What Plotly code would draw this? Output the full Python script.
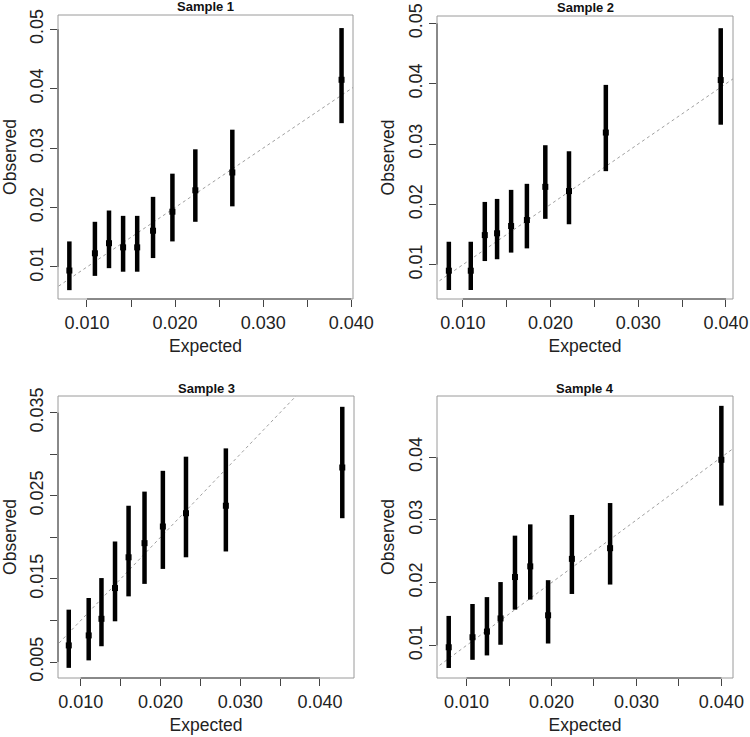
import plotly.graph_objects as go

# ---------------- data ----------------
titles = ["Sample 1", "Sample 2", "Sample 3", "Sample 4"]

s1_expected = [0.0080, 0.0109, 0.0125, 0.0141, 0.0157, 0.0175, 0.0197, 0.0223, 0.0265, 0.0389]
s1_observed = [0.0094, 0.0123, 0.0140, 0.0133, 0.0133, 0.0161, 0.0193, 0.0229, 0.0259, 0.0415]
s1_lower    = [0.0061, 0.0085, 0.0098, 0.0092, 0.0092, 0.0115, 0.0143, 0.0176, 0.0202, 0.0342]
s1_upper    = [0.0143, 0.0176, 0.0195, 0.0186, 0.0186, 0.0218, 0.0257, 0.0298, 0.0331, 0.0502]

s2_expected = [0.0084, 0.0109, 0.0125, 0.0139, 0.0155, 0.0173, 0.0194, 0.0221, 0.0263, 0.0394]
s2_observed = [0.0090, 0.0090, 0.0149, 0.0152, 0.0164, 0.0174, 0.0229, 0.0222, 0.0319, 0.0406]
s2_lower    = [0.0058, 0.0058, 0.0106, 0.0109, 0.0120, 0.0127, 0.0176, 0.0167, 0.0255, 0.0332]
s2_upper    = [0.0138, 0.0138, 0.0204, 0.0209, 0.0224, 0.0234, 0.0298, 0.0288, 0.0398, 0.0492]

s3_expected = [0.0085, 0.0110, 0.0126, 0.0143, 0.0160, 0.0180, 0.0203, 0.0232, 0.0282, 0.0428]
s3_observed = [0.0070, 0.0082, 0.0102, 0.0139, 0.0176, 0.0193, 0.0213, 0.0229, 0.0238, 0.0284]
s3_lower    = [0.0043, 0.0052, 0.0069, 0.0099, 0.0129, 0.0144, 0.0162, 0.0176, 0.0183, 0.0223]
s3_upper    = [0.0113, 0.0127, 0.0151, 0.0195, 0.0238, 0.0255, 0.0280, 0.0297, 0.0307, 0.0357]

s4_expected = [0.0079, 0.0107, 0.0124, 0.0140, 0.0157, 0.0175, 0.0196, 0.0224, 0.0269, 0.0400]
s4_observed = [0.0097, 0.0113, 0.0122, 0.0143, 0.0209, 0.0226, 0.0148, 0.0238, 0.0255, 0.0396]
s4_lower    = [0.0064, 0.0077, 0.0084, 0.0101, 0.0157, 0.0173, 0.0103, 0.0182, 0.0197, 0.0323]
s4_upper    = [0.0147, 0.0166, 0.0177, 0.0201, 0.0275, 0.0293, 0.0204, 0.0308, 0.0327, 0.0482]

x_ranges = [[0.00671, 0.0402], [0.00705, 0.0408], [0.00715, 0.04427], [0.00652, 0.04137]]
y_ranges = [[0.00461, 0.0524], [0.00431, 0.05122], [0.00308, 0.0370], [0.0048, 0.04977]]

x_tick_vals = [0.010, 0.015, 0.020, 0.025, 0.030, 0.035, 0.040]
x_tick_text = ["0.010", "", "0.020", "", "0.030", "", "0.040"]
y_tick_vals = [
    [0.01, 0.02, 0.03, 0.04, 0.05],
    [0.01, 0.02, 0.03, 0.04, 0.05],
    [0.005, 0.010, 0.015, 0.020, 0.025, 0.030, 0.035],
    [0.01, 0.02, 0.03, 0.04],
]
y_tick_text = [
    ["0.01", "0.02", "0.03", "0.04", "0.05"],
    ["0.01", "0.02", "0.03", "0.04", "0.05"],
    ["0.005", "", "0.015", "", "0.025", "", "0.035"],
    ["0.01", "0.02", "0.03", "0.04"],
]

samples = [
    (s1_expected, s1_observed, s1_lower, s1_upper),
    (s2_expected, s2_observed, s2_lower, s2_upper),
    (s3_expected, s3_observed, s3_lower, s3_upper),
    (s4_expected, s4_observed, s4_lower, s4_upper),
]

# ---------------- layout geometry (pixels) ----------------
W, H = 750, 737
boxes = [  # left, right, top, bottom in px
    (58, 353, 15, 299),
    (437, 733, 16, 299),
    (58, 354, 396, 678),
    (437, 733, 396, 678),
]

FONT = "Liberation Sans, Arial, sans-serif"
TXT = "#222222"
fig = go.Figure()
layout = dict(
    width=W, height=H,
    margin=dict(l=0, r=0, t=0, b=0, autoexpand=False),
    paper_bgcolor="white", plot_bgcolor="white",
    showlegend=False,
    font=dict(family=FONT, color=TXT),
)
shapes = []
annotations = []

for i, ((ex, ob, lo, up), (l, r, t, b)) in enumerate(zip(samples, boxes)):
    n = i + 1
    xa = "x" if n == 1 else f"x{n}"
    ya = "y" if n == 1 else f"y{n}"
    xr, yr = x_ranges[i], y_ranges[i]
    # identity line
    fig.add_trace(go.Scatter(
        x=[0, 0.06], y=[0, 0.06], mode="lines",
        line=dict(color="#a0a0a0", width=1, dash="dot"),
        xaxis=xa, yaxis=ya, hoverinfo="skip"))
    # intervals and points
    fig.add_trace(go.Scatter(
        x=ex, y=ob, mode="markers",
        marker=dict(symbol="square", size=6, color="black"),
        error_y=dict(type="data", symmetric=False,
                     array=[u - o for u, o in zip(up, ob)],
                     arrayminus=[o - lw for o, lw in zip(ob, lo)],
                     color="black", thickness=4.5, width=0),
        xaxis=xa, yaxis=ya, cliponaxis=False))
    xd = [l / W, r / W]
    yd = [1 - b / H, 1 - t / H]
    layout["xaxis" if n == 1 else f"xaxis{n}"] = dict(
        domain=xd, range=xr, anchor=ya, automargin=False,
        tickmode="array", tickvals=x_tick_vals, ticktext=x_tick_text,
        ticks="outside", ticklen=7, tickwidth=1, tickcolor="#444444",
        showgrid=False, zeroline=False, showline=False,
        tickfont=dict(size=18, family=FONT, color=TXT),
        title=dict(text="Expected", font=dict(size=17.5, family=FONT, color=TXT), standoff=8),
    )
    layout["yaxis" if n == 1 else f"yaxis{n}"] = dict(
        domain=yd, range=yr, anchor=xa, automargin=False,
        tickmode="array", tickvals=y_tick_vals[i], ticktext=y_tick_text[i],
        ticks="outside", ticklen=7, tickwidth=1, tickcolor="#444444",
        tickangle=-90,
        showgrid=False, zeroline=False, showline=False,
        tickfont=dict(size=18, family=FONT, color=TXT),
        title=dict(text="Observed", font=dict(size=17.5, family=FONT, color=TXT), standoff=6),
    )
    # plot box (light gray)
    shapes.append(dict(type="rect", xref=f"{xa} domain", yref=f"{ya} domain",
                       x0=0, x1=1, y0=0, y1=1, line=dict(color="#9a9a9a", width=1),
                       layer="above"))
    # axis lines spanning first to last tick (darker, R style)
    xt_in = [v for v in x_tick_vals if xr[0] <= v <= xr[1]]
    shapes.append(dict(type="line", xref=xa, yref=f"{ya} domain",
                       x0=min(xt_in), x1=max(xt_in), y0=0, y1=0,
                       line=dict(color="#444444", width=1)))
    yt_in = [v for v in y_tick_vals[i] if yr[0] <= v <= yr[1]]
    shapes.append(dict(type="line", xref=f"{xa} domain", yref=ya,
                       x0=0, x1=0, y0=min(yt_in), y1=max(yt_in),
                       line=dict(color="#444444", width=1)))
    # panel title
    annotations.append(dict(text="<b>" + titles[i] + "</b>", xref="paper", yref="paper",
                            x=(l + r) / 2 / W, y=1 - (t - 8) / H, showarrow=False,
                            xanchor="center", yanchor="middle",
                            font=dict(size=13, family=FONT, color="#111111")))

layout["shapes"] = shapes
layout["annotations"] = annotations
fig.update_layout(**layout)
fig.write_html(
    "out.html",
    config={"displayModeBar": False},
    post_script="document.body.style.margin='0';document.body.style.overflow='hidden';",
)
